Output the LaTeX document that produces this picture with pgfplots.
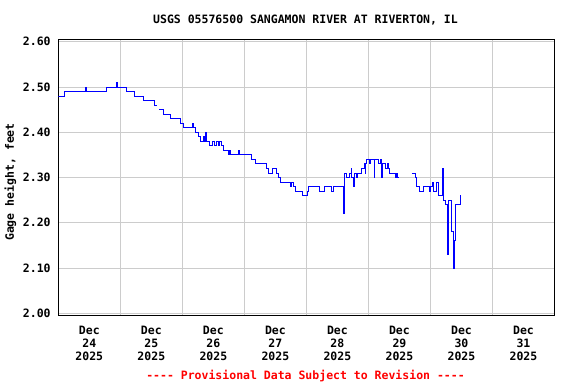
\documentclass[border=0pt]{standalone}
\usepackage{fontspec}
\setmainfont{DejaVu Sans Mono}
\usepackage{pgfplots}
\pgfplotsset{compat=1.18}
\definecolor{gridgray}{RGB}{204,204,204}
\newcommand{\chfont}{\bfseries\fontsize{11.5bp}{13bp}\selectfont}
\newcommand{\dashes}{\mbox{-}\mbox{-}\mbox{-}\mbox{-}}
\begin{document}
\begin{tikzpicture}
\useasboundingbox (0,0) rectangle (576bp,384bp);
\fill[white] (0,0) rectangle (576bp,384bp);
\begin{axis}[
  at={(58.3bp,68.3bp)}, anchor=south west,
  scale only axis, width=496.2bp, height=276.4bp,
  xmin=0, xmax=8, ymin=1.9947, ymax=2.6053,
  axis line style={line width=1.2bp, black},
  xtick={0.5,1.5,2.5,3.5,4.5,5.5,6.5,7.5},
  xticklabels={{Dec\\24\\2025},{Dec\\25\\2025},{Dec\\26\\2025},{Dec\\27\\2025},{Dec\\28\\2025},{Dec\\29\\2025},{Dec\\30\\2025},{Dec\\31\\2025}},
  minor xtick={1,2,3,4,5,6,7},
  xminorgrids=true, xmajorgrids=false,
  ytick={2.0,2.1,2.2,2.3,2.4,2.5,2.6},
  yticklabels={2.00,2.10,2.20,2.30,2.40,2.50,2.60},
  ymajorgrids=true,
  major grid style={gridgray, line width=0.9bp},
  minor grid style={gridgray, line width=0.9bp},
  major tick length=0pt, minor tick length=0pt,
  xticklabel style={font=\chfont, align=center, anchor=north, inner sep=0pt, yshift=-10.3bp},
  yticklabel style={font=\chfont, anchor=east, inner sep=0pt, xshift=-7.5bp},
  unbounded coords=jump,
]
\addplot[blue, line width=0.9bp, const plot] coordinates {
(0,2.48) (0.103,2.49) (0.431,2.50) (0.447,2.49) (0.781,2.50) (0.931,2.51) (0.947,2.50)
(1.097,2.49) (1.232,2.48) (1.377,2.47) (1.555,2.46) (1.587,2.46) (1.59,nan)
(1.629,2.45) (1.694,2.44) (1.802,2.43) (1.963,2.42) (2.011,2.41) (2.156,2.42) (2.173,2.41)
(2.216,2.40) (2.253,2.39) (2.297,2.38) (2.334,2.39) (2.350,2.38) (2.366,2.40) (2.387,2.38)
(2.442,2.37) (2.48,2.38) (2.51,2.37) (2.55,2.38) (2.58,2.37) (2.60,2.38) (2.629,2.37)
(2.668,2.36) (2.737,2.35) (2.753,2.36) (2.781,2.35) (2.903,2.36) (2.919,2.35)
(3.113,2.34) (3.177,2.33) (3.361,2.32) (3.394,2.31) (3.452,2.32) (3.516,2.31) (3.544,2.30)
(3.587,2.29) (3.742,2.28) (3.755,2.29) (3.785,2.28) (3.823,2.27) (3.939,2.26)
(4.016,2.27) (4.032,2.28) (4.210,2.27) (4.285,2.28) (4.410,2.27) (4.435,2.28)
(4.597,2.22) (4.608,2.31) (4.652,2.30) (4.689,2.31) (4.721,2.32) (4.732,2.30) (4.758,2.28)
(4.769,2.31) (4.802,2.30) (4.823,2.31) (4.894,2.32) (4.931,2.33) (4.947,2.31) (4.958,2.33)
(4.974,2.34) (5.011,2.33) (5.027,2.34) (5.092,2.30) (5.103,2.34) (5.156,2.33) (5.189,2.34)
(5.216,2.30) (5.226,2.33) (5.269,2.32) (5.302,2.33) (5.318,2.32) (5.344,2.31) (5.431,2.30)
(5.447,2.31) (5.471,2.30) (5.490,2.30) (5.5,nan)
(5.700,2.31) (5.753,2.30) (5.781,2.28) (5.818,2.27) (5.887,2.28) (5.979,2.27) (5.995,2.28)
(6.032,2.29) (6.044,2.28) (6.048,2.27) (6.103,2.29) (6.129,2.26) (6.194,2.32) (6.205,2.25)
(6.237,2.24) (6.281,2.13) (6.290,2.25) (6.334,2.18) (6.371,2.10) (6.382,2.16) (6.398,2.24)
(6.479,2.26) (6.495,2.26)
};
\end{axis}
\node[font=\chfont, anchor=base, inner sep=0pt] at (305.5bp,360.3bp) {USGS 05576500 SANGAMON RIVER AT RIVERTON, IL};
\node[font=\chfont, anchor=base, inner sep=0pt, rotate=90] at (13.8bp,202bp) {Gage height, feet};
\node[font=\chfont, anchor=base, inner sep=0pt, text=red] at (305.5bp,4.8bp) {\dashes{} Provisional Data Subject to Revision \dashes};
\end{tikzpicture}
\end{document}
